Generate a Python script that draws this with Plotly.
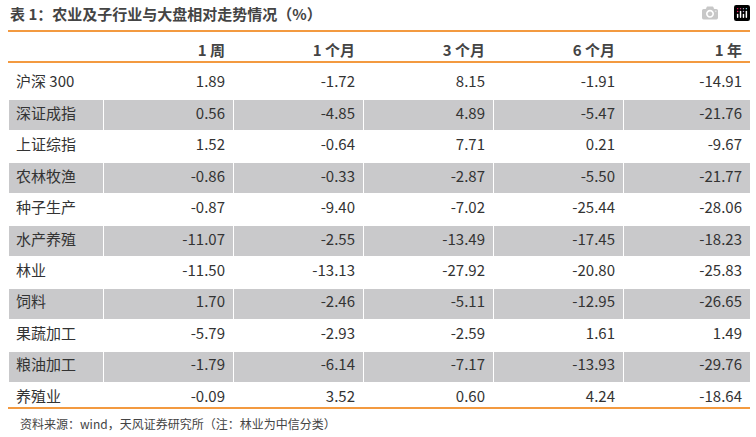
import plotly.graph_objects as go

names = ["沪深 300","深证成指","上证综指","农林牧渔","种子生产","水产养殖","林业","饲料","果蔬加工","粮油加工","养殖业"]
headers = ["", "1 周", "1 个月", "3 个月", "6 个月", "1 年"]
w1 = [1.89,0.56,1.52,-0.86,-0.87,-11.07,-11.50,1.70,-5.79,-1.79,-0.09]
m1 = [-1.72,-4.85,-0.64,-0.33,-9.40,-2.55,-13.13,-2.46,-2.93,-6.14,3.52]
m3 = [8.15,4.89,7.71,-2.87,-7.02,-13.49,-27.92,-5.11,-2.59,-7.17,0.60]
m6 = [-1.91,-5.47,0.21,-5.50,-25.44,-17.45,-20.80,-12.95,1.61,-13.93,4.24]
y1 = [-14.91,-21.76,-9.67,-21.77,-28.06,-18.23,-25.83,-26.65,1.49,-29.76,-18.64]

W, H = 756, 437
fmt = lambda a: [f"{v:.2f}" for v in a]
fills = ["white" if i % 2 == 0 else "#c9c9cb" for i in range(len(names))]
font = "Noto Sans CJK SC"
top, hdr, bot, x0, x1 = 31, 62, 408, 8, 750

fig = go.Figure(go.Table(
    domain=dict(x=[x0/W, x1/W], y=[1-bot/H-0.01, 1-top/H]),
    columnwidth=[95,130,130,130,130,127],
    header=dict(values=[f"<b>{h}</b>" for h in headers], height=hdr-top-1,
                align=["left"]+["right"]*5, fill_color="white",
                line=dict(color="white", width=1),
                font=dict(family=font, size=15, color="#444")),
    cells=dict(values=[names, fmt(w1), fmt(m1), fmt(m3), fmt(m6), fmt(y1)],
               height=(bot-hdr)/len(names), align=["left"]+["right"]*5,
               fill_color=[fills]*6, line=dict(color="white", width=1),
               font=dict(family=font, size=15, color="#333")),
))
for yy in [top, hdr, bot]:
    fig.add_shape(type="line", xref="paper", yref="paper", x0=x0/W, x1=x1/W,
                  y0=1-yy/H, y1=1-yy/H, line=dict(color="#f39a40", width=2))
fig.add_annotation(text="<b>表 1：农业及子行业与大盘相对走势情况（%）</b>", x=x0/W, y=1-13/H,
                   xref="paper", yref="paper", xanchor="left", yanchor="middle",
                   showarrow=False, font=dict(family=font, size=15, color="#444"))
fig.add_annotation(text="资料来源：wind，天风证券研究所（注：林业为中信分类）", x=18/W, y=1-423/H,
                   xref="paper", yref="paper", xanchor="left", yanchor="middle",
                   showarrow=False, font=dict(family=font, size=12, color="#444"))
fig.update_layout(width=W, height=H, margin=dict(l=0, r=0, t=0, b=0),
                  paper_bgcolor="white", plot_bgcolor="white")
fig.write_html("out.html", post_script="document.body.style.margin='0';")
